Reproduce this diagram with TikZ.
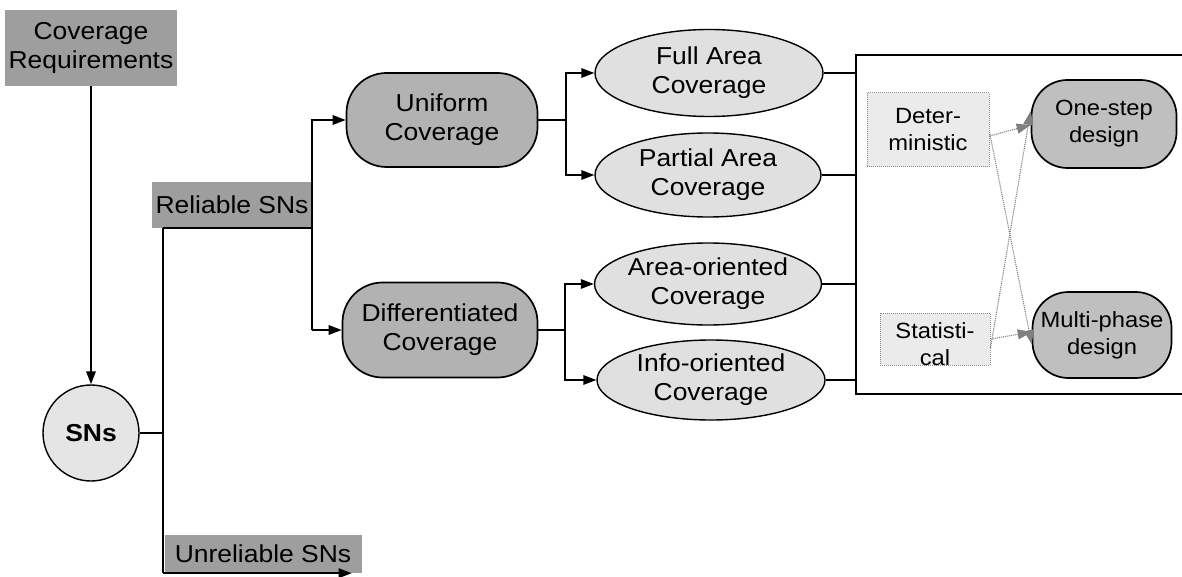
\documentclass[tikz,border=0pt]{standalone}
\usepackage{fontspec}
\setmainfont{Liberation Sans}[FakeStretch=1.08]
\usetikzlibrary{arrows.meta,shapes.geometric,calc}
\begin{document}
\begin{tikzpicture}[x=1pt,y=-1pt,
  lbl/.style={font=\fontsize{24.5}{29}\selectfont, align=center, inner sep=1pt},
  small/.style={font=\fontsize{22}{27}\selectfont, align=center, inner sep=1pt},
  line/.style={line width=1.7pt},
  arr/.style={line width=1.7pt, -{Triangle[length=13pt,width=9.5pt]}},
  garr/.style={draw=black!50, line width=1.1pt, densely dotted, -{Triangle[length=14pt,width=10pt,fill=black!50]}},
  graybox/.style={lbl, rectangle, fill=black!38},
  stadium/.style={lbl, draw, line width=1.7pt, rounded corners=40pt, fill=black!30},
  oval/.style={lbl, draw, line width=1.4pt, ellipse, fill=black!12, inner sep=0pt},
  dotbox/.style={rectangle, draw=black!45, densely dotted, line width=1pt, fill=black!8},
  design/.style={small, draw, line width=1.7pt, rounded corners=36pt, fill=black!25}
]
\useasboundingbox (0,0) rectangle (1182,577);

% root nodes
\node[graybox, minimum width=172pt, minimum height=76pt] (req) at (91,48) {Coverage\\Requirements};
\node[circle, draw, line width=1.4pt, fill=black!10, minimum size=96pt,
      font=\fontsize{24.5}{29}\selectfont\bfseries] (sns) at (91,433) {SNs};
\node[graybox, minimum width=160pt, minimum height=46pt] (rel) at (232,205) {Reliable SNs};
\node[graybox, minimum width=197pt, minimum height=38pt] (unrel) at (263,554) {Unreliable SNs};

% coverage classes
\node[stadium, minimum width=191pt, minimum height=94pt] (uni) at (442,120) {Uniform\\Coverage};
\node[stadium, minimum width=195pt, minimum height=95pt] (dif) at (440,330) {Differentiated\\Coverage};

\node[oval, minimum width=228pt, minimum height=87pt] (full) at (709,73) {Full Area\\Coverage};
\node[oval, minimum width=226pt, minimum height=84pt] (part) at (708,175) {Partial Area\\Coverage};
\node[oval, minimum width=227pt, minimum height=82pt] (area) at (708,284) {Area-oriented\\Coverage};
\node[oval, minimum width=228pt, minimum height=80pt] (info) at (711,380) {Info-oriented\\Coverage};

% design panel
\coordinate (ptl) at (856,55);
\coordinate (pbl) at (856,394);
\draw[line] (ptl -| 1182,0) -- (ptl) -- (pbl) -- (pbl -| 1182,0);

\node[dotbox, small, minimum width=122pt, minimum height=74pt] (det) at (928,130) {Deter-\\ministic};
\node[dotbox, minimum width=110pt, minimum height=52pt] (stat) at (935,339) {};
\node[small, anchor=base] (stattxt) at (935,365) {Statisti-\\cal};
\node[design, minimum width=145pt, minimum height=88pt] (one) at (1104,124) {One-step\\design};
\node[design, minimum width=139pt, minimum height=86pt] (multi) at (1102,335) {Multi-phase\\design};

% main tree
\draw[arr] (req.south) -- (sns.north);
\coordinate (trunk) at (163,433);
\draw[line] (sns.east) -- (trunk);
\draw[line] (rel.south -| trunk) -- (trunk) -- (trunk |- unrel.south);
\draw[arr] (trunk |- unrel.south) -- ([xshift=-10pt]unrel.south east);
\draw[line] (rel.south -| trunk) -- (rel.south east);

\coordinate (rj) at (rel.south east);
\draw[arr] (rj |- dif.west) -- (rj |- uni.west) -- (uni.west);
\draw[arr] (rj |- dif.west) -- (dif.west);

\coordinate (uj) at (566,120);
\draw[line] (uni.east) -- (uj);
\draw[arr] (uj) -- (uj |- full.west) -- (full.west);
\draw[arr] (uj) -- (uj |- part.west) -- (part.west);

\coordinate (dj) at (565,330);
\draw[line] (dif.east) -- (dj);
\draw[arr] (dj) -- (dj |- area.west) -- (area.west);
\draw[arr] (dj) -- (dj |- info.west) -- (info.west);

\foreach \n in {full,part,area,info}
  \draw[line] (\n.east) -- (\n.east -| ptl);

% design links
\draw[garr] ([yshift=-6pt]det.east) -- ([yshift=-1pt]one.west);
\draw[garr] ([yshift=-2pt]det.east) -- ([yshift=-9pt]multi.west);
\draw[garr] ([yshift=-9pt]stat.east) -- ([yshift=13pt]one.west);
\draw[garr] ([yshift=0pt]stat.east) -- ([yshift=3pt]multi.west);
\end{tikzpicture}
\end{document}
